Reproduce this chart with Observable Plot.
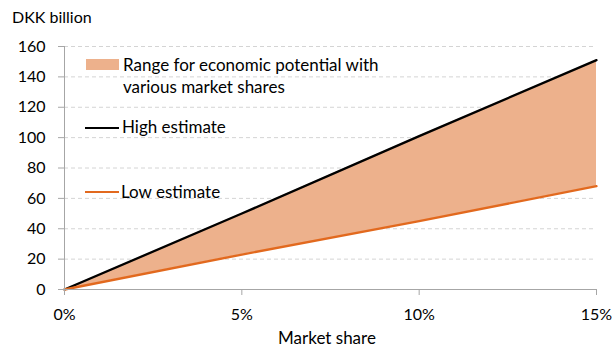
<!DOCTYPE html>
<html><head><meta charset="utf-8">
<script src="https://cdn.jsdelivr.net/npm/d3@7"></script>
<script src="https://cdn.jsdelivr.net/npm/@observablehq/plot@0.6"></script>
<style>
body{margin:0;background:#fff;font-family:Lato,"Open Sans",sans-serif;color:#000;}
#wrap{position:relative;width:612px;height:348px;overflow:hidden;}
.lbl{position:absolute;font-size:17px;line-height:22px;white-space:nowrap;}
.sw{position:absolute;}
</style></head><body>
<div id="wrap"></div>
<script>
const shares = [0, 0.05, 0.10, 0.15];
const highEstimate = [0, 50, 101, 151];
const lowEstimate = [0, 23, 45, 68];
const xTicks = [0, 0.05, 0.10, 0.15];
const yTicks = [0, 20, 40, 60, 80, 100, 120, 140, 160];
const yTitle = "DKK billion";
const xTitle = "Market share";
const legendLabels = ["Range for economic potential with\nvarious market shares", "High estimate", "Low estimate"];

const fillColor = "#EDB18C";
const lowColor = "#E2691E";
const highColor = "#000000";

const data = shares.map((s, i) => ({share: s, high: highEstimate[i], low: lowEstimate[i]}));

const chart = Plot.plot({
  width: 612, height: 348,
  marginLeft: 64, marginRight: 16, marginTop: 46, marginBottom: 59,
  style: {fontFamily: "Lato, 'Open Sans', sans-serif", fontSize: "16px", color: "#000", background: "#fff"},
  x: {domain: [0, 0.15], label: null},
  y: {domain: [0, 160], label: null},
  marks: [
    Plot.gridY(yTicks.filter(d => d > 0), {stroke: "#d4d4d4", strokeOpacity: 1, strokeDasharray: "4,3"}),
    Plot.areaY(data, {x: "share", y1: "low", y2: "high", fill: fillColor}),
    Plot.line(data, {x: "share", y: "high", stroke: highColor, strokeWidth: 2.3}),
    Plot.line(data, {x: "share", y: "low", stroke: lowColor, strokeWidth: 2.3}),
    Plot.ruleX([0], {stroke: "#a6a6a6"}),
    Plot.ruleY([0], {stroke: "#a6a6a6"}),
    Plot.axisY({ticks: yTicks, tickSize: 6, tickPadding: 13, stroke: "#a6a6a6", label: null, fontSize: 16}),
    Plot.axisX({ticks: xTicks, tickSize: 6, tickPadding: 13, stroke: "#a6a6a6", label: null, fontSize: 16,
      tickFormat: d => Math.round(d * 100) + "%"})
  ]
});
const wrap = document.getElementById("wrap");
wrap.appendChild(chart);

function addLabel(text, left, top, extra) {
  const d = document.createElement("div");
  d.className = "lbl";
  d.textContent = text;
  d.style.left = left + "px"; d.style.top = top + "px";
  if (extra) Object.assign(d.style, extra);
  wrap.appendChild(d);
  return d;
}
addLabel(yTitle, 12, 8, {fontSize: "16px", lineHeight: "18px"});
addLabel(xTitle, 0, 329, {width: "654px", textAlign: "center", lineHeight: "18px"});

// legend
function swatch(left, top, w, h, color) {
  const s = document.createElement("div");
  s.className = "sw";
  Object.assign(s.style, {left: left + "px", top: top + "px", width: w + "px", height: h + "px", background: color});
  wrap.appendChild(s);
}
swatch(86, 59, 33, 11, fillColor);
const l1 = addLabel("", 123, 53.5, {whiteSpace: "pre"});
l1.textContent = legendLabels[0];
swatch(85, 126.5, 34, 2.3, highColor);
addLabel(legendLabels[1], 122, 115.5);
swatch(85, 191, 34, 2.3, lowColor);
addLabel(legendLabels[2], 121, 180.5);
</script>
</body></html>
